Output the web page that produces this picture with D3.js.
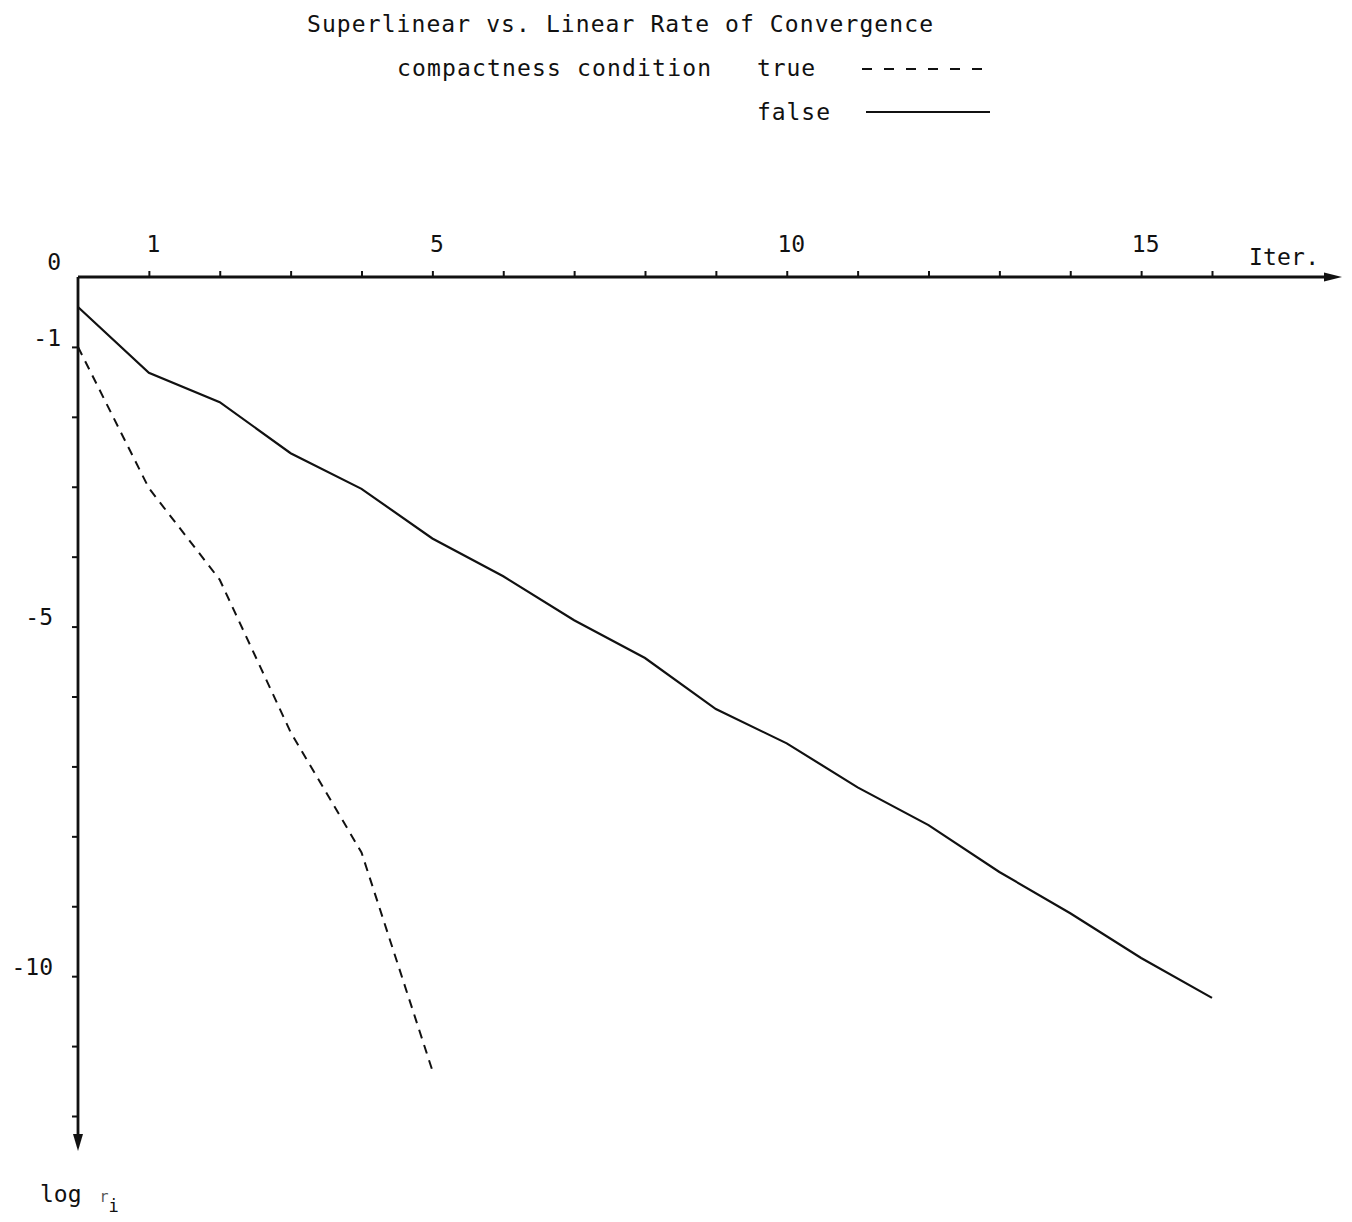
<!DOCTYPE html>
<html><head><meta charset="utf-8">
<script src="https://cdn.jsdelivr.net/npm/d3@7/dist/d3.min.js"></script>
<style>
body{margin:0;background:#fff;}
svg{display:block;}
text{font-family:"DejaVu Sans Mono","Liberation Mono",monospace;fill:#111;}
</style></head>
<body>
<svg id="chart" width="1352" height="1222"></svg>
<script>
// ---- data ----
const iterations = [0,1,2,3,4,5,6,7,8,9,10,11,12,13,14,15,16];
const falseValues = [-0.43,-1.37,-1.79,-2.52,-3.03,-3.74,-4.28,-4.91,-5.45,-6.18,-6.67,-7.30,-7.84,-8.51,-9.10,-9.74,-10.31];
const trueIter = [0,1,2,3,4,5];
const trueValues = [-1.0,-3.02,-4.33,-6.51,-8.23,-11.35];
const xTickValues = [1,2,3,4,5,6,7,8,9,10,11,12,13,14,15,16];
const xTickLabels = [1,5,10,15];
const yTickValues = [0,-1,-2,-3,-4,-5,-6,-7,-8,-9,-10,-11,-12];
const yTickLabels = [0,-1,-5,-10];
const titleText = "Superlinear vs. Linear Rate of Convergence";
const legendHeader = "compactness condition";
const legendTrue = "true";
const legendFalse = "false";

const svg = d3.select("#chart");
const x = d3.scaleLinear().domain([0,16]).range([78,1212]);
const y = d3.scaleLinear().domain([0,-12]).range([277,1116]);

// title & legend
svg.append("text").attr("x",307).attr("y",32).attr("font-size",23)
  .attr("textLength",626).attr("lengthAdjust","spacing").text(titleText);
svg.append("text").attr("x",397).attr("y",76).attr("font-size",23)
  .attr("textLength",314).attr("lengthAdjust","spacing").text(legendHeader);
svg.append("text").attr("x",757).attr("y",76).attr("font-size",23)
  .attr("textLength",58).attr("lengthAdjust","spacing").text(legendTrue);
svg.append("text").attr("x",757).attr("y",120).attr("font-size",23)
  .attr("textLength",73).attr("lengthAdjust","spacing").text(legendFalse);
svg.append("line").attr("x1",862).attr("x2",986).attr("y1",69).attr("y2",69)
  .attr("stroke","#111").attr("stroke-width",2).attr("stroke-dasharray","10,12");
svg.append("line").attr("x1",866).attr("x2",990).attr("y1",112).attr("y2",112)
  .attr("stroke","#111").attr("stroke-width",2);

// x axis
const xAxis = d3.axisTop(x).tickValues(xTickValues).tickSize(6).tickPadding(19)
  .tickFormat(d => xTickLabels.includes(d) ? String(d) : "");
const gx = svg.append("g").attr("transform",`translate(0,${y(0)})`).call(xAxis);
gx.select(".domain").remove();
gx.selectAll(".tick line").attr("stroke","#111").attr("stroke-width",2);
gx.selectAll(".tick text").attr("font-size",23).attr("dx",4)
  .attr("font-family","DejaVu Sans Mono, monospace").attr("fill","#111");
svg.append("line").attr("x1",x(0)).attr("x2",1330).attr("y1",y(0)).attr("y2",y(0))
  .attr("stroke","#111").attr("stroke-width",2.8);
svg.append("path").attr("d",`M1342,${y(0)} L1324,${y(0)-4.5} L1324,${y(0)+4.5} Z`).attr("fill","#111");
svg.append("text").attr("x",1249).attr("y",265).attr("font-size",23)
  .attr("textLength",70).attr("lengthAdjust","spacing").text("Iter.");

// y axis
const yAxis = d3.axisLeft(y).tickValues(yTickValues).tickSize(6).tickPadding(19)
  .tickFormat(d => yTickLabels.includes(d) ? String(d) : "");
const gy = svg.append("g").attr("transform",`translate(${x(0)},0)`).call(yAxis);
gy.select(".domain").remove();
gy.selectAll(".tick line").attr("stroke","#111").attr("stroke-width",2);
gy.selectAll(".tick text").attr("font-size",23).attr("dy","-0.08em")
  .attr("font-family","DejaVu Sans Mono, monospace").attr("fill","#111");
gy.selectAll(".tick").filter(d => d===0).select("text").attr("dy","-0.32em").attr("dx","8");
gy.selectAll(".tick").filter(d => d===-1).select("text").attr("dx","8");
gy.selectAll(".tick").filter(d => d===0).select("line").remove();
svg.append("line").attr("x1",x(0)).attr("x2",x(0)).attr("y1",y(0)).attr("y2",1138)
  .attr("stroke","#111").attr("stroke-width",2.8);
svg.append("path").attr("d",`M${x(0)},1151 L${x(0)-5},1134 L${x(0)+5},1134 Z`).attr("fill","#111");

// y label
const yl = svg.append("text").attr("x",40).attr("y",1202).attr("font-size",23);
yl.append("tspan").text("log ");
yl.append("tspan").attr("font-size",15).attr("dx",4).attr("fill","#555").text("r");
yl.append("tspan").attr("font-size",17).attr("dy",10).text("i");

// lines
const line = d3.line().x(d => x(d[0])).y(d => y(d[1]));
svg.append("path").datum(iterations.map((it,i)=>[it,falseValues[i]]))
  .attr("d",line).attr("fill","none").attr("stroke","#111").attr("stroke-width",2.2);
svg.append("path").datum(trueIter.map((it,i)=>[it,trueValues[i]]))
  .attr("d",line).attr("fill","none").attr("stroke","#111").attr("stroke-width",2)
  .attr("stroke-dasharray","9,7");
</script>
</body></html>
